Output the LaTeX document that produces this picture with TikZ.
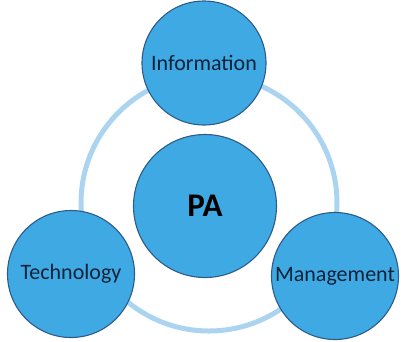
\documentclass[tikz,border=0pt]{standalone}
\usepackage{fontspec}
\setmainfont{Carlito}
\usepackage{tikz}

\definecolor{bubble}{HTML}{3FA9E4}
\definecolor{bubbleedge}{HTML}{2B5C8C}
\definecolor{ringblue}{HTML}{AAD4EF}
\definecolor{labelblue}{HTML}{0E2238}

\begin{document}
\begin{tikzpicture}[x=1pt,y=-1pt,
	bubble/.style={circle,fill=bubble,draw=bubbleedge,line width=1.1pt,inner sep=0pt,text=labelblue,font=\fontsize{22}{24}\selectfont}]
	\useasboundingbox (0,0) rectangle (401,341);
	% ring behind the bubbles
	\coordinate (ringc) at (209,203);
	\draw[ringblue, line width=5pt] (ringc) circle (128);

	\node[bubble, minimum size=143pt, text=black, font=\fontsize{33}{36}\selectfont\bfseries] (pa) at (205,206) {PA};
	\node[bubble, minimum size=124pt] (info) at (204,63) {Information};
	\node[bubble, minimum size=127pt] (tech) at (71,274) {Technology};
	\node[bubble, minimum size=127pt] (mgmt) at (335,276) {Management};
\end{tikzpicture}
\end{document}
